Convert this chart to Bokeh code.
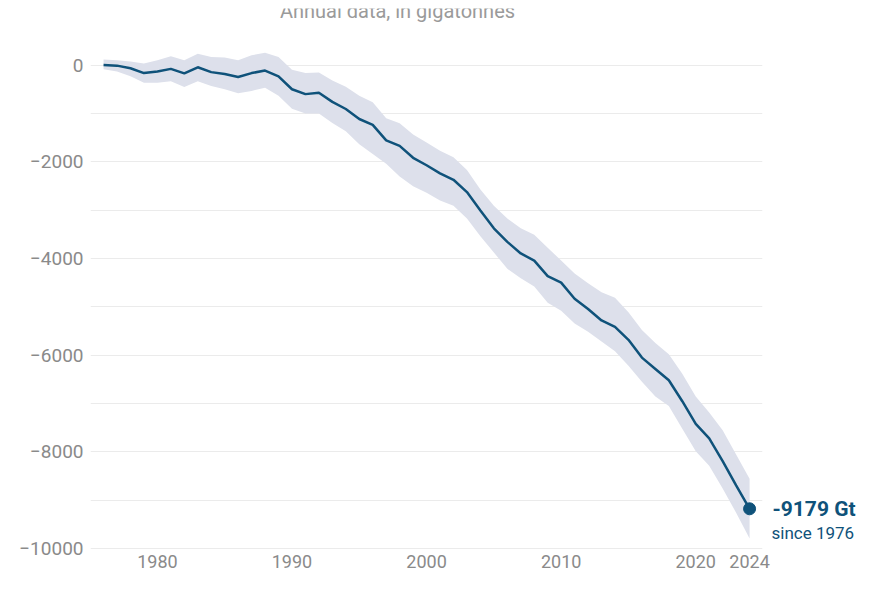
from bokeh.plotting import figure
from bokeh.layouts import row
from bokeh.models import Range1d, FixedTicker
from bokeh.core.properties import value
from bokeh.embed import file_html
from bokeh.resources import INLINE

# ---- data (Gt, cumulative since 1976) ----
years = list(range(1976, 2025))
mass = [0, -13, -67, -167, -134, -80, -174, -47, -147, -187,
        -247, -167, -114, -234, -501, -602, -575, -763, -910, -1117,
        -1237, -1558, -1672, -1919, -2073, -2240, -2374, -2628, -3009, -3377,
        -3658, -3898, -4045, -4366, -4500, -4834, -5048, -5283, -5416, -5684,
        -6052, -6286, -6520, -6954, -7422, -7723, -8191, -8693, -9179]
upper = [114, 100, 74, 33, 100, 181, 100, 234, 167, 154,
         100, 201, 254, 167, -100, -167, -154, -320, -450, -635,
         -769, -1103, -1204, -1438, -1605, -1772, -1906, -2173, -2574, -2909,
         -3176, -3377, -3511, -3778, -4045, -4313, -4513, -4700, -4814, -5115,
         -5483, -5751, -5985, -6386, -6854, -7188, -7556, -8058, -8559]
lower = [-87, -134, -234, -368, -368, -334, -455, -334, -435, -501,
         -582, -535, -468, -635, -903, -1003, -1003, -1200, -1370, -1638,
         -1839, -2040, -2307, -2508, -2641, -2800, -2909, -3176, -3544, -3878,
         -4213, -4413, -4580, -4915, -5082, -5349, -5517, -5717, -5918, -6219,
         -6553, -6854, -7055, -7523, -7991, -8291, -8760, -9261, -9796]
x_ticks = [1980, 1990, 2000, 2010, 2020, 2024]
y_ticks = [0, -2000, -4000, -6000, -8000, -10000]
grid_ticks = list(range(-10000, 1, 1000))
subtitle = "Annual data, in gigatonnes"

LINE = "#0f527a"
BAND = "#dde0eb"
GRAY = "#8a8a8a"
FONT = "Roboto"

H = 577
TOP, BOTTOM = 8, 28
yr = Range1d(-10021, 1169)

p = figure(width=771, height=H, output_backend="svg", toolbar_location=None,
           x_range=Range1d(1975.03, 2024.96), y_range=yr,
           min_border_left=90, min_border_right=9, min_border_top=TOP,
           min_border_bottom=BOTTOM)
p.outline_line_color = None
p.border_fill_color = "white"

p.xgrid.grid_line_color = None
p.ygrid.ticker = FixedTicker(ticks=grid_ticks)
p.ygrid.grid_line_color = "#ebebeb"
p.ygrid.grid_line_width = 1

for ax, ticks in ((p.xaxis[0], x_ticks), (p.yaxis[0], y_ticks)):
    ax.ticker = FixedTicker(ticks=ticks)
    ax.axis_line_color = None
    ax.major_tick_line_color = None
    ax.minor_tick_line_color = None
    ax.major_tick_out = 0
    ax.major_tick_in = 0
    ax.minor_tick_out = 0
    ax.minor_tick_in = 0
    ax.major_label_text_font = FONT
    ax.major_label_text_color = GRAY
p.xaxis.major_label_text_font_size = "18px"
p.yaxis.major_label_text_font_size = "19px"
p.xaxis.major_label_standoff = 5
p.yaxis.major_label_standoff = 7

p.varea(x=years, y1=lower, y2=upper, fill_color=BAND, fill_alpha=1.0)
p.line(x=years, y=mass, line_color=LINE, line_width=2.5)
p.scatter(x=[years[-1]], y=[mass[-1]], size=12, fill_color=LINE, line_color=LINE)

# subtitle (partly hidden above the chart, as in the reference)
p.text(x=[(years[0] + years[-1]) / 2 - 2.16], y=[1107], text=[subtitle],
       text_align="center", text_baseline="alphabetic",
       text_font=value(FONT), text_font_size="20px", text_color="#9a9a9a")

# right-hand panel for the end-of-series annotation
q = figure(width=100, height=H, output_backend="svg", toolbar_location=None,
           x_range=Range1d(0, 1), y_range=yr, x_axis_location=None,
           y_axis_location=None, min_border_left=0, min_border_right=0,
           min_border_top=TOP, min_border_bottom=BOTTOM)
q.outline_line_color = None
q.grid.grid_line_color = None
q.text(x=[0], y=[mass[-1]], text=[f"{mass[-1]} Gt"], x_offset=1,
       text_baseline="middle", text_font=value(FONT), text_font_style="bold",
       text_font_size="21px", text_color=LINE)
q.text(x=[0], y=[mass[-1]], text=[f"since {years[0]}"], x_offset=0, y_offset=24,
       text_baseline="middle", text_font=value(FONT),
       text_font_size="17px", text_color=LINE)

layout = row(p, q, spacing=0)
open("out.html", "w").write(file_html(layout, INLINE))
